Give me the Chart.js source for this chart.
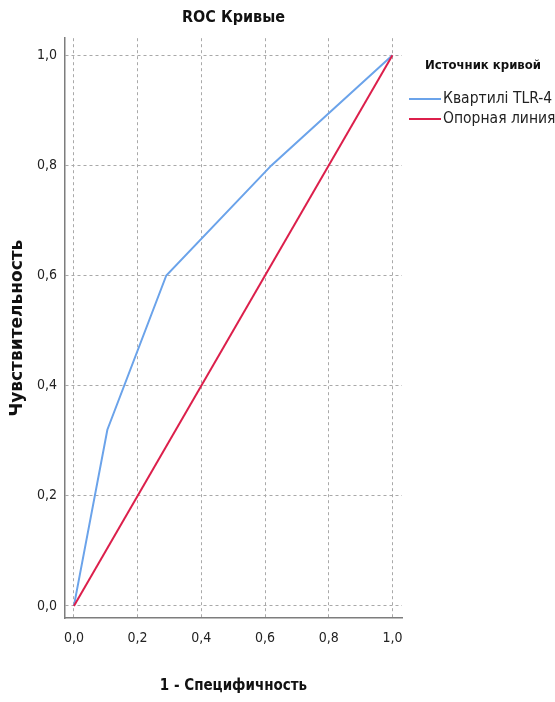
<!DOCTYPE html>
<html>
<head>
<meta charset="utf-8">
<script src="https://cdn.jsdelivr.net/npm/chart.js@4/dist/chart.umd.min.js"></script>
<style>
  html, body { margin: 0; padding: 0; background: #fff; }
  #wrap { width: 555px; height: 702px; position: relative; }
</style>
</head>
<body>
<div id="wrap"><canvas id="c" width="555" height="702"></canvas></div>
<script>
// ---- data ----
const curveX = [0, 0.105, 0.29, 0.62, 1];      // 1 - specificity
const curveY = [0, 0.32, 0.6, 0.8, 1];         // sensitivity
const refX = [0, 1];
const refY = [0, 1];
const tickValues = [0, 0.2, 0.4, 0.6, 0.8, 1.0];
const tickLabels = ['0,0', '0,2', '0,4', '0,6', '0,8', '1,0'];
const seriesNames = ['Квартилі TLR-4', 'Опорная линия'];
const legendTitle = 'Источник кривой';
const chartTitle = 'ROC Кривые';
const xTitle = '1 - Специфичность';
const yTitle = 'Чувствительность';

const NARROW = '"DejaVu Sans Condensed", "Liberation Sans Narrow", sans-serif';
const BLUE = '#6ba3ea';
const RED = '#dc1f4b';

const toPts = (xs, ys) => xs.map((x, i) => ({ x: x, y: ys[i] }));

const legendPlugin = {
  id: 'customLegend',
  afterDraw(chart) {
    const ctx = chart.ctx;
    ctx.save();
    ctx.fillStyle = '#111';
    ctx.font = 'bold 13px ' + NARROW;
    ctx.textBaseline = 'middle';
    ctx.textAlign = 'left';
    ctx.fillText(legendTitle, 425, 66);
    ctx.font = '15.5px ' + NARROW;
    const items = [{ name: seriesNames[0], color: BLUE, y: 99 }, { name: seriesNames[1], color: RED, y: 119 }];
    items.forEach(it => {
      ctx.strokeStyle = it.color;
      ctx.lineWidth = 2;
      ctx.beginPath();
      ctx.moveTo(409, it.y);
      ctx.lineTo(441, it.y);
      ctx.stroke();
      ctx.fillStyle = '#222';
      ctx.fillText(it.name, 443, it.y);
    });
    ctx.restore();
  }
};

const setTicks = (scale) => {
  scale.ticks = tickValues.map(v => ({ value: v }));
};
const fmt = (v) => {
  const i = tickValues.findIndex(t => Math.abs(t - v) < 1e-9);
  return i >= 0 ? tickLabels[i] : '';
};

new Chart(document.getElementById('c'), {
  type: 'scatter',
  data: {
    datasets: [
      {
        label: seriesNames[1],
        data: toPts(refX, refY),
        showLine: true,
        borderColor: RED,
        backgroundColor: RED,
        borderWidth: 2,
        pointRadius: 0,
        tension: 0
      },
      {
        label: seriesNames[0],
        data: toPts(curveX, curveY),
        showLine: true,
        borderColor: BLUE,
        backgroundColor: BLUE,
        borderWidth: 2,
        pointRadius: 0,
        tension: 0
      }
    ]
  },
  options: {
    responsive: false,
    animation: false,
    devicePixelRatio: 1,
    layout: { padding: { left: 0, right: 153, top: 0, bottom: 0 } },
    plugins: {
      legend: { display: false },
      tooltip: { enabled: false },
      title: {
        display: true,
        text: chartTitle,
        fullSize: false,
        color: '#111',
        font: { family: NARROW, size: 16, weight: 'bold' },
        padding: { top: 8, bottom: 11 }
      }
    },
    scales: {
      x: {
        type: 'linear',
        min: -0.028,
        max: 1.03,
        afterBuildTicks: setTicks,
        afterFit: (s) => { s.height = 84; },
        grid: { color: '#a9a9a9', lineWidth: 1, drawTicks: false },
        border: { display: true, color: '#7d7d7d', width: 1.5, dash: [3, 3] },
        ticks: {
          callback: fmt,
          color: '#222',
          padding: 12,
          maxRotation: 0,
          font: { family: NARROW, size: 14 }
        },
        title: {
          display: true,
          text: xTitle,
          color: '#111',
          font: { family: NARROW, size: 15, weight: 'bold' },
          padding: { top: 6, bottom: 7 }
        }
      },
      y: {
        type: 'linear',
        min: -0.022,
        max: 1.031,
        afterBuildTicks: setTicks,
        afterFit: (s) => { s.width = 65; },
        grid: { color: '#a9a9a9', lineWidth: 1, drawTicks: false },
        border: { display: true, color: '#7d7d7d', width: 1.5, dash: [3, 3] },
        ticks: {
          callback: fmt,
          color: '#222',
          padding: 8,
          font: { family: NARROW, size: 14 }
        },
        title: {
          display: true,
          text: yTitle,
          color: '#111',
          font: { family: '"DejaVu Sans", sans-serif', size: 17, weight: 'bold' },
          padding: { top: 7, bottom: 7 }
        }
      }
    }
  },
  plugins: [legendPlugin]
});
</script>
</body>
</html>
